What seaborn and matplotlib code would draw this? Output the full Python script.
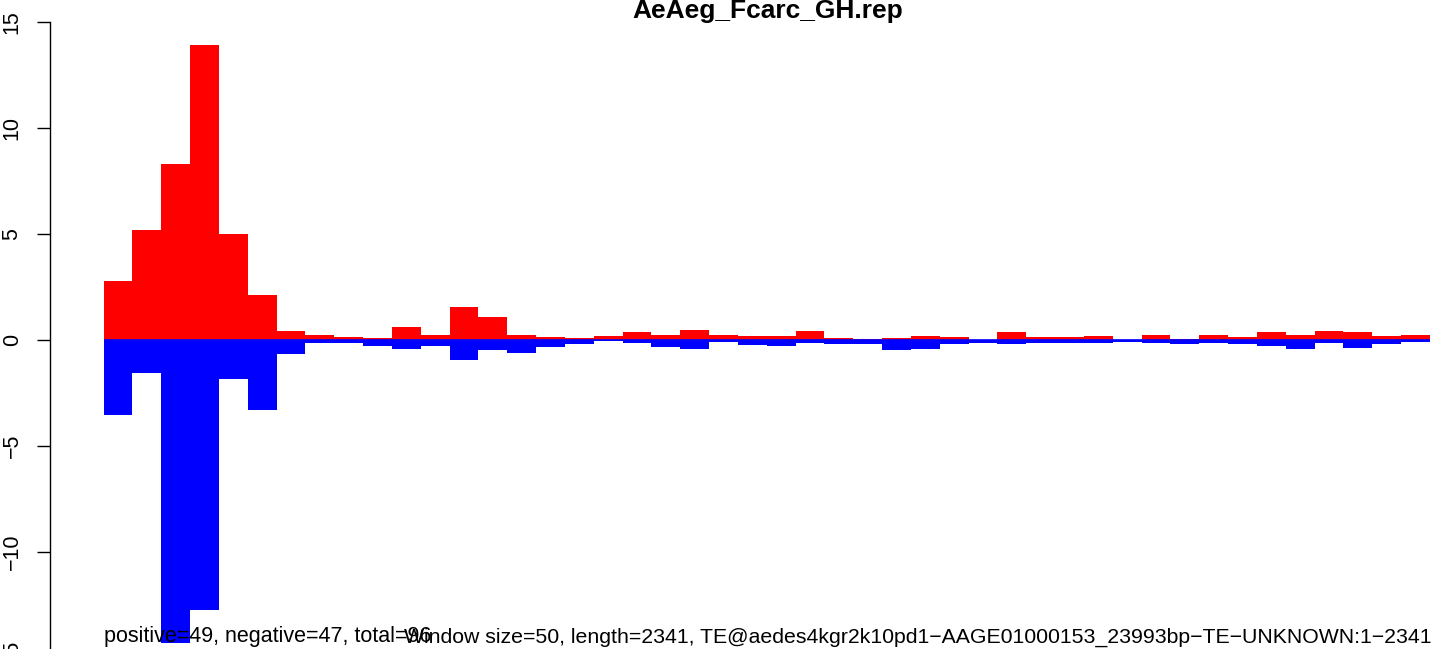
import numpy as np
import pandas as pd
import matplotlib
matplotlib.use("Agg")
import matplotlib.pyplot as plt
import seaborn as sns

# Window data (window size 50, TE length 2341)
window_size = 50
te_length = 2341
window_start = np.arange(0, 2300, window_size)

positive = [2.79, 5.19, 8.31, 13.91, 5.01, 2.13, 0.43, 0.25, 0.14, 0.09,
            0.61, 0.24, 1.56, 1.08, 0.24, 0.14, 0.09, 0.19, 0.38, 0.24,
            0.47, 0.24, 0.19, 0.19, 0.42, 0.09, 0.05, 0.09, 0.19, 0.14,
            0.0, 0.38, 0.14, 0.14, 0.19, 0.0, 0.24, 0.05, 0.24, 0.14,
            0.38, 0.24, 0.42, 0.38, 0.19, 0.24]
negative = [-3.55, -1.54, -14.29, -12.74, -1.82, -3.28, -0.64, -0.16, -0.12, -0.28,
            -0.41, -0.30, -0.94, -0.47, -0.61, -0.35, -0.17, -0.05, -0.14, -0.31,
            -0.41, -0.09, -0.24, -0.28, -0.14, -0.19, -0.19, -0.47, -0.42, -0.19,
            -0.12, -0.19, -0.14, -0.14, -0.14, -0.09, -0.14, -0.19, -0.14, -0.19,
            -0.28, -0.42, -0.14, -0.38, -0.19, -0.09]

y_ticks = [-15, -10, -5, 0, 5, 10, 15]
title = "AeAeg_Fcarc_GH.rep"
left_note = "positive=49, negative=47, total=96"
right_note = ("Window size=50, length=2341, "
              "TE@aedes4kgr2k10pd1\u2212AAGE01000153_23993bp\u2212TE\u2212UNKNOWN:1\u22122341")

data = pd.DataFrame({
    "center": window_start + window_size / 2,
    "pos": positive,
    "neg": negative,
})

sns.set_style("white")
plt.rcParams["font.family"] = ["Liberation Sans", "DejaVu Sans"]
for key in ["text.color", "axes.labelcolor", "xtick.color", "ytick.color", "axes.edgecolor"]:
    plt.rcParams[key] = "black"

W, H = 1441, 649
fig = plt.figure(figsize=(W / 100, H / 100), dpi=100)

# plot region like R: x range 0..length with 4% padding, y -16.2..16.2
px_left, px_width = 49.6, 1458
px_zero, px_unit = 340, 21.2
ylo, yhi = -16.2, 16.2
top_px = px_zero - yhi * px_unit
bot_px = px_zero - ylo * px_unit
ax = fig.add_axes([px_left / W, (H - bot_px) / H, px_width / W, (bot_px - top_px) / H])

sns.barplot(data=data, x="center", y="pos", native_scale=True, width=1.0,
            color="#ff0000", saturation=1, linewidth=0, errorbar=None, ax=ax)
sns.barplot(data=data, x="center", y="neg", native_scale=True, width=1.0,
            color="#0000ff", saturation=1, linewidth=0, errorbar=None, ax=ax)
ax.hlines(0, window_start[0], window_start[-1] + window_size, color="#0000ff", linewidth=1.2)

pad = 0.04 * te_length
ax.set_xlim(-pad, te_length + pad)
ax.set_ylim(ylo, yhi)
ax.set_xticks([])
ax.set_xlabel("")
ax.set_ylabel("")
ax.set_yticks(y_ticks)
ax.tick_params(axis="y", length=9.4, width=1.0, labelsize=15.5, pad=10, left=True)
plt.setp(ax.get_yticklabels(), rotation=90, va="center")

for side in ["top", "right", "bottom"]:
    ax.spines[side].set_visible(False)
ax.spines["left"].set_bounds(-15, 15)
ax.spines["left"].set_linewidth(1.0)

fig.text(768 / W, 1 - 11 / H, title, ha="center", va="center",
         fontsize=19, fontweight="bold")
ax.text(0, -13.97, left_note, ha="left", va="center", fontsize=15.5)
fig.text(1432 / W, 1 - 637 / H, right_note, ha="right", va="center", fontsize=15.3)

fig.savefig("out.png", dpi=100)
